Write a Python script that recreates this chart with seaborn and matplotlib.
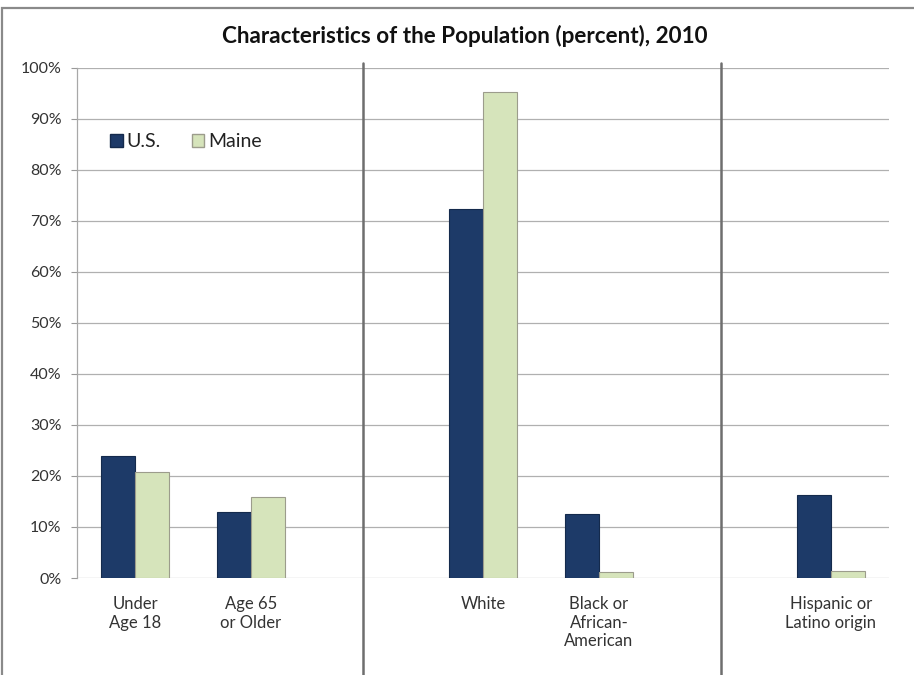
import matplotlib
matplotlib.use("Agg")
import matplotlib.pyplot as plt
import matplotlib.transforms as mtransforms
from matplotlib.patches import Rectangle, Patch
import pandas as pd
import seaborn as sns

# Category slots (blank slots separate the three groups)
categories = ["Under\nAge 18", "Age 65\nor Older", " ",
              "White", "Black or\nAfrican-\nAmerican", "  ",
              "Hispanic or\nLatino origin"]
shown = ["Under\nAge 18", "Age 65\nor Older", "White",
         "Black or\nAfrican-\nAmerican", "Hispanic or\nLatino origin"]
us_values = [24.0, 13.0, 72.4, 12.6, 16.3]
maine_values = [20.7, 15.9, 95.2, 1.2, 1.3]
series = ["U.S.", "Maine"]
y_ticks = [0, 10, 20, 30, 40, 50, 60, 70, 80, 90, 100]

df = pd.DataFrame({
    "Category": shown * 2,
    "Series": [series[0]] * len(shown) + [series[1]] * len(shown),
    "Percent": us_values + maine_values,
})

navy = "#1d3a68"
pale = "#d6e4bb"
edge_colors = ["#142a4c", "#9c9c8c"]

sns.set_theme(style="white")
plt.rcParams["font.family"] = ["Lato", "DejaVu Sans"]

fig = plt.figure(figsize=(9.14, 6.75), dpi=100)
ax = fig.add_axes([0.0842, 0.1437, 0.8884, 0.7556])

sns.barplot(data=df, x="Category", y="Percent", hue="Series",
            order=categories, hue_order=series,
            palette=[navy, pale], saturation=1, width=0.58, dodge=True,
            errorbar=None, legend=False, ax=ax, zorder=3)

for cont, ec in zip(ax.containers, edge_colors):
    for bar in cont:
        bar.set_edgecolor(ec)
        bar.set_linewidth(0.8)

ax.set_xlim(-0.5, 6.5)
ax.set_ylim(0, 100)
ax.set_yticks(y_ticks)
ax.set_yticklabels([f"{t}%" for t in y_ticks], fontsize=11.5, color="#333333")
ax.set_xticks(range(len(categories)))
ax.set_xticklabels(categories, fontsize=12, color="#333333", linespacing=1.2)
ax.tick_params(axis="x", length=0, pad=13)
ax.tick_params(axis="y", length=4, width=0.8, color="#999999", pad=7, left=True)
ax.set_xlabel("")
ax.set_ylabel("")

ax.yaxis.grid(True, color="#b0b0b0", linewidth=0.9, zorder=0)
for side in ["top", "right", "bottom"]:
    ax.spines[side].set_visible(False)
ax.spines["left"].set_color("#a8a8a8")
ax.spines["left"].set_linewidth(0.9)

# Group separators running from the top of the plot down past the labels
trans = mtransforms.blended_transform_factory(ax.transData, ax.transAxes)
for xs in [1.97, 5.05]:
    ax.plot([xs, xs], [1.01, -0.19], transform=trans, color="#6e6e6e",
            linewidth=1.8, clip_on=False, zorder=4)

handles = [Patch(facecolor=navy, edgecolor=edge_colors[0]),
           Patch(facecolor=pale, edgecolor=edge_colors[1])]
ax.legend(handles, series, loc="center left", bbox_to_anchor=(0.019, 0.856),
          ncol=2, frameon=False, fontsize=14, handlelength=0.65,
          handleheight=0.65, handletextpad=0.2, columnspacing=1.6,
          labelcolor="#222222")

fig.text(0.509, 0.946, "Characteristics of the Population (percent), 2010",
         ha="center", va="center", fontsize=16.2, fontweight="bold",
         color="#111111")

# Chart frame
fig.patches.append(Rectangle((2 / 914, -0.05), 1.2, 1 - 8 / 675 + 0.05,
                             transform=fig.transFigure, fill=False,
                             edgecolor="#8a8a8a", linewidth=1.6))

fig.savefig("out.png", dpi=100)
